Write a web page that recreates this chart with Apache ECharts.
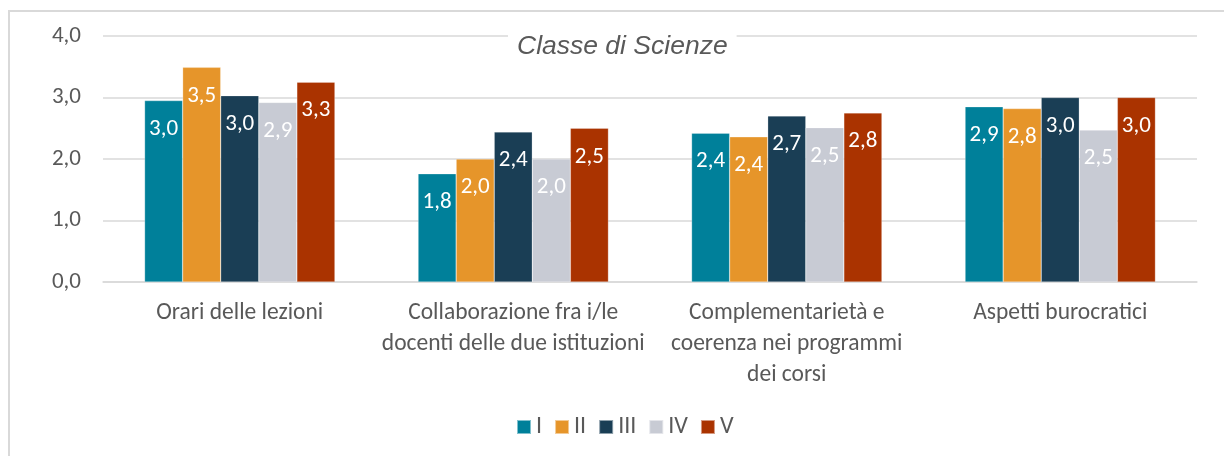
<!DOCTYPE html>
<html>
<head>
<meta charset="utf-8">
<style>
  html, body { margin: 0; padding: 0; background: #fff; }
  #chart { width: 1224px; height: 456px; }
</style>
<script src="https://cdn.jsdelivr.net/npm/echarts@6/dist/echarts.min.js"></script>
</head>
<body>
<div id="chart"></div>
<script>
// categorie (asse x) e serie I..V
const categories = [
  'Orari delle lezioni',
  'Collaborazione fra i/le\ndocenti delle due istituzioni',
  'Complementarietà e\ncoerenza nei programmi\ndei corsi',
  'Aspetti burocratici',
]
const seriesNames = ['I', 'II', 'III', 'IV', 'V']
const valuesI = [2.95, 1.76, 2.42, 2.85]
const valuesII = [3.49, 2.0, 2.36, 2.82]
const valuesIII = [3.03, 2.44, 2.7, 3.0]
const valuesIV = [2.92, 2.0, 2.51, 2.47]
const valuesV = [3.25, 2.5, 2.75, 3.0]
const yTicks = [0, 1, 2, 3, 4]

const COLORS = ['#00809a', '#e6952a', '#1a3e55', '#c8cbd4', '#aa3300']
const FONT = 'Carlito, Lato, sans-serif'
const fmt = (v) => v.toFixed(1).replace('.', ',')

const allValues = [valuesI, valuesII, valuesIII, valuesIV, valuesV]

const chart = echarts.init(document.getElementById('chart'))

chart.setOption({
  animation: false,
  graphic: [
    {
      type: 'rect',
      shape: { x: 9, y: 11, width: 1300, height: 500 },
      style: { fill: 'none', stroke: '#d9d9d9', lineWidth: 2 },
      z: -1,
    },
  ],
  title: {
    text: 'Classe di Scienze',
    left: 508,
    top: 30,
    padding: [2, 9],
    backgroundColor: '#fff',
    textStyle: {
      fontFamily: '"Liberation Sans", Arial, sans-serif',
      fontStyle: 'italic',
      fontWeight: 'normal',
      fontSize: 26.5,
      lineHeight: 30,
      color: '#595959',
    },
    z: 10,
  },
  legend: {
    left: 511,
    top: 410,
    itemWidth: 14,
    itemHeight: 14,
    itemGap: 12,
    icon: 'rect',
    textStyle: { fontFamily: FONT, fontSize: 24, color: '#595959' },
    data: seriesNames,
  },
  grid: { left: 103, right: 27, top: 36, bottom: 174 },
  xAxis: {
    type: 'category',
    data: categories,
    axisTick: { show: false },
    axisLine: { lineStyle: { color: '#d9d9d9', width: 1.5 } },
    axisLabel: {
      interval: 0,
      margin: 16,
      fontFamily: FONT,
      fontSize: 23.5,
      lineHeight: 31,
      color: '#595959',
    },
  },
  yAxis: {
    type: 'value',
    min: yTicks[0],
    max: yTicks[yTicks.length - 1],
    interval: 1,
    axisLine: { show: false },
    axisTick: { show: false },
    splitLine: { lineStyle: { color: '#d9d9d9', width: 1.5 } },
    axisLabel: {
      margin: 22,
      fontFamily: FONT,
      fontSize: 23,
      color: '#595959',
      formatter: (v) => fmt(v),
    },
  },
  series: seriesNames.map((name, i) => ({
    name,
    type: 'bar',
    data: allValues[i],
    barGap: '0%',
    barCategoryGap: '30.4%',
    itemStyle: { color: COLORS[i], borderColor: 'rgba(255,255,255,0.5)', borderWidth: 0.5 },
    label: {
      show: true,
      position: 'insideTop',
      distance: 17,
      fontFamily: FONT,
      fontSize: 23,
      color: '#fff',
      formatter: (p) => fmt(p.value),
    },
  })),
})
</script>
</body>
</html>
